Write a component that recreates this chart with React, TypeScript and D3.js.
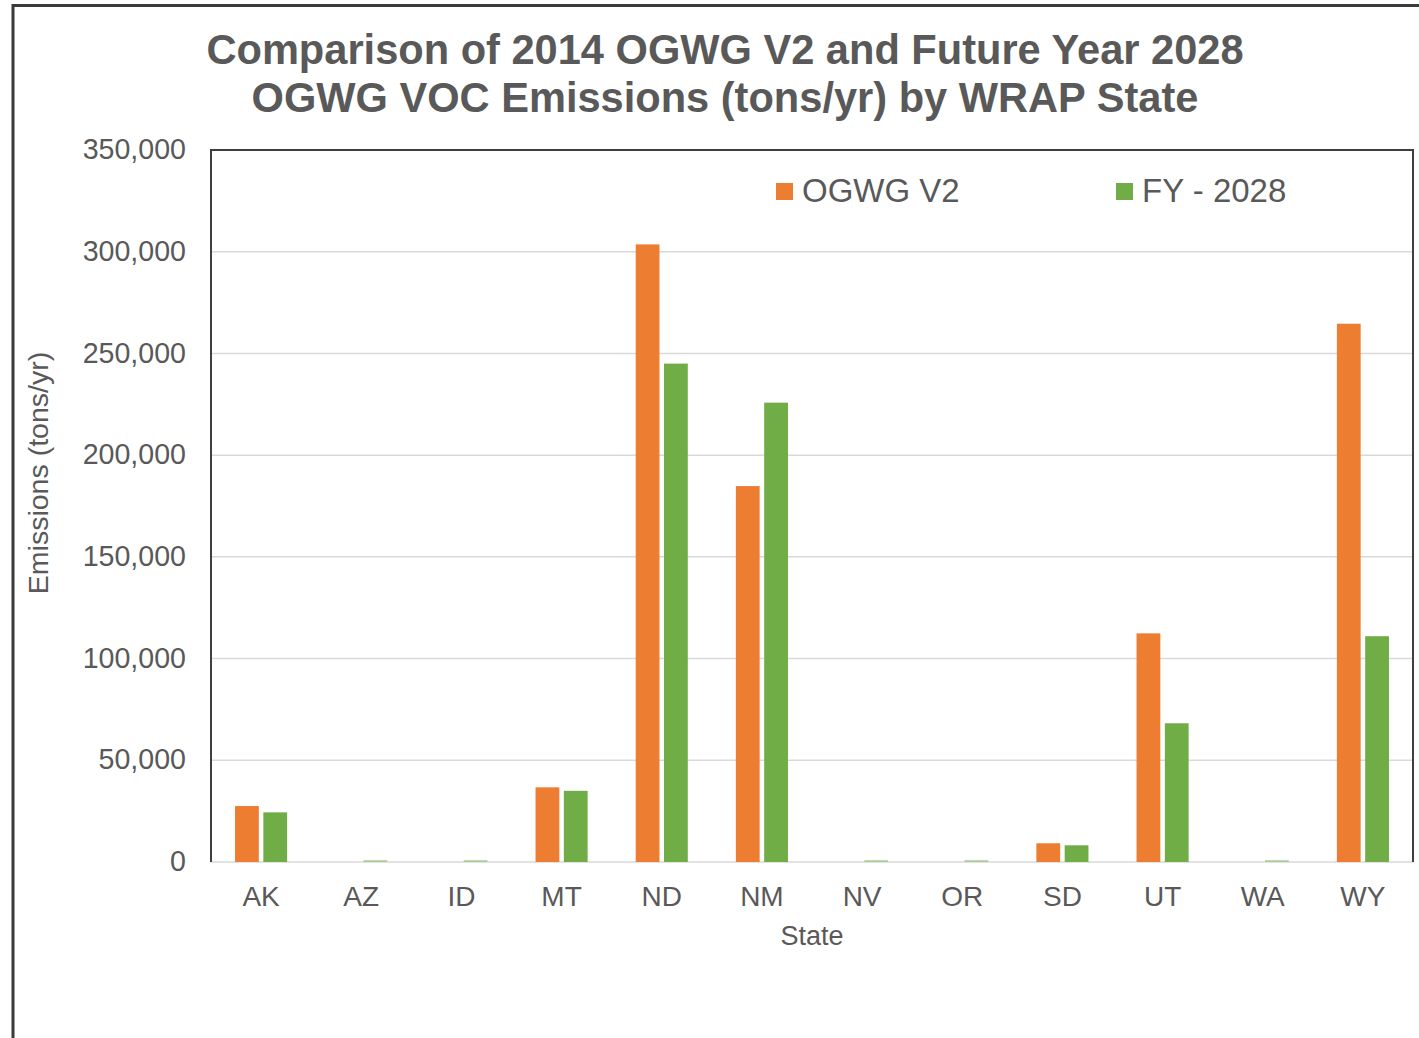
import React, { useEffect, useRef } from 'react';
import * as d3 from 'd3';

// values (tons/yr)
const states = ['AK', 'AZ', 'ID', 'MT', 'ND', 'NM', 'NV', 'OR', 'SD', 'UT', 'WA', 'WY'];
const ogwgV2 = [27500, 0, 0, 36700, 303600, 184800, 0, 0, 9200, 112400, 0, 264600];
const fy2028 = [24400, 1000, 1000, 35000, 245000, 225800, 1000, 1000, 8200, 68200, 1000, 111000];
const seriesNames = ['OGWG V2', 'FY - 2028'];
const seriesColors = ['#ED7D31', '#70AD47'];
const yTicks = [0, 50000, 100000, 150000, 200000, 250000, 300000, 350000];

function App() {
  const svgRef = useRef<SVGSVGElement>(null);

  useEffect(() => {
    const width = 1419;
    const height = 1038;
    const margin = { top: 150, right: 6, bottom: 176, left: 211 };
    const innerW = width - margin.left - margin.right;
    const innerH = height - margin.top - margin.bottom;
    const textColor = '#595959';
    const font = '"Liberation Sans", Arial, sans-serif';

    const svg = d3.select(svgRef.current);
    svg.selectAll('*').remove();

    svg.append('rect').attr('width', width).attr('height', height).attr('fill', '#fff');

    // outer frame (cropped at right and bottom in the reference)
    svg.append('rect')
      .attr('x', 13)
      .attr('y', 5.5)
      .attr('width', width + 20)
      .attr('height', height + 20)
      .attr('fill', 'none')
      .attr('stroke', '#3a3a3a')
      .attr('stroke-width', 3);

    // title
    const title = svg.append('text')
      .attr('x', 725)
      .attr('text-anchor', 'middle')
      .attr('font-family', font)
      .attr('font-weight', 'bold')
      .attr('font-size', 41.6)
      .attr('fill', textColor);
    title.append('tspan').attr('x', 725).attr('y', 64).text('Comparison of 2014 OGWG V2 and Future Year 2028');
    title.append('tspan').attr('x', 725).attr('y', 112).text('OGWG VOC Emissions (tons/yr) by WRAP State');

    const g = svg.append('g').attr('transform', 'translate(' + margin.left + ',' + margin.top + ')');

    const x0 = d3.scaleBand().domain(states).range([0, innerW]).paddingInner(0.48).paddingOuter(0.24);
    const x1 = d3.scaleBand().domain(seriesNames).range([0, x0.bandwidth()]).paddingInner(0.16);
    const y = d3.scaleLinear().domain([0, 350000]).range([innerH, 0]);

    // gridlines
    g.append('g')
      .selectAll('line')
      .data(yTicks)
      .join('line')
      .attr('x1', 0)
      .attr('x2', innerW)
      .attr('y1', (d) => y(d))
      .attr('y2', (d) => y(d))
      .attr('stroke', '#d9d9d9')
      .attr('stroke-width', 1.5);

    // bars
    const data = states.map((s, i) => ({ state: s, values: [ogwgV2[i], fy2028[i]] }));
    const groups = g.append('g')
      .selectAll('g')
      .data(data)
      .join('g')
      .attr('transform', (d) => 'translate(' + x0(d.state) + ',0)');

    groups.selectAll('rect')
      .data((d) => d.values.map((v, k) => ({ name: seriesNames[k], value: v, color: seriesColors[k] })))
      .join('rect')
      .attr('x', (d) => x1(d.name))
      .attr('width', x1.bandwidth())
      .attr('y', (d) => y(d.value))
      .attr('height', (d) => innerH - y(d.value))
      .attr('fill', (d) => d.color)
      .attr('opacity', (d) => (d.value <= 1000 ? 0.45 : 1));

    // plot border: top, left, right dark
    g.append('path')
      .attr('d', 'M0,' + innerH + 'V0H' + innerW + 'V' + innerH)
      .attr('fill', 'none')
      .attr('stroke', '#3f3f3f')
      .attr('stroke-width', 2);

    // y axis labels
    const yAxis = g.append('g')
      .call(d3.axisLeft(y).tickValues(yTicks).tickSize(0).tickPadding(25).tickFormat(d3.format(',')));
    yAxis.select('.domain').remove();
    yAxis.selectAll('text')
      .attr('font-family', font)
      .attr('font-size', 28.6)
      .attr('fill', textColor)
      .attr('dy', '0.3em');

    // x axis labels
    const xAxis = g.append('g')
      .attr('transform', 'translate(0,' + innerH + ')')
      .call(d3.axisBottom(x0).tickSize(0).tickPadding(24));
    xAxis.select('.domain').remove();
    xAxis.selectAll('text')
      .attr('font-family', font)
      .attr('font-size', 28)
      .attr('fill', textColor)
      .attr('dy', '0.71em');

    // axis titles
    svg.append('text')
      .attr('x', margin.left + innerW / 2)
      .attr('y', 945)
      .attr('text-anchor', 'middle')
      .attr('font-family', font)
      .attr('font-size', 27)
      .attr('fill', textColor)
      .text('State');

    svg.append('text')
      .attr('transform', 'translate(48,473) rotate(-90)')
      .attr('text-anchor', 'middle')
      .attr('font-family', font)
      .attr('font-size', 28.5)
      .attr('fill', textColor)
      .text('Emissions (tons/yr)');

    // legend
    const legendX = [776, 1116];
    const legend = svg.append('g')
      .selectAll('g')
      .data(seriesNames)
      .join('g')
      .attr('transform', (d, i) => 'translate(' + legendX[i] + ',183)');
    legend.append('rect')
      .attr('width', 17)
      .attr('height', 17)
      .attr('fill', (d, i) => seriesColors[i]);
    legend.append('text')
      .attr('x', 26)
      .attr('y', 19)
      .attr('font-family', font)
      .attr('font-size', 33)
      .attr('fill', textColor)
      .text((d) => d);
  }, []);

  return (
    <svg
      ref={svgRef}
      width={1419}
      height={1038}
      style={{ position: 'absolute', left: 0, top: 0, display: 'block' }}
    />
  );
}

export default App;
